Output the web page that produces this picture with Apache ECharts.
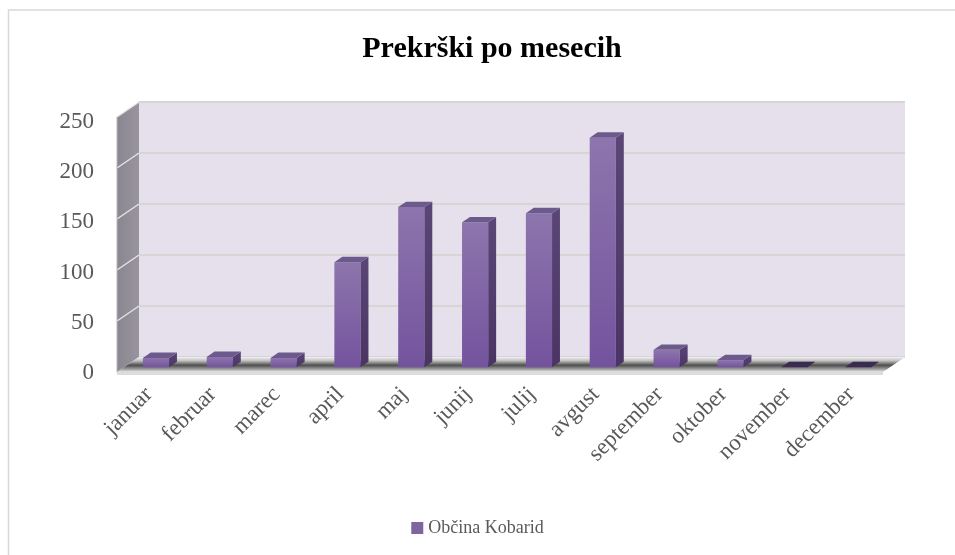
<!DOCTYPE html>
<html><head><meta charset="utf-8">
<script src="https://cdn.jsdelivr.net/npm/echarts@6/dist/echarts.min.js"></script>
<style>html,body{margin:0;padding:0;background:#fff}#c{width:955px;height:555px}</style>
</head><body><div id="c"></div>
<script>
const months = ['januar','februar','marec','april','maj','junij','julij','avgust','september','oktober','november','december'];
const values = [9, 10, 9, 103, 157, 142, 151, 225, 17, 7, 0, 0];
const yTicks = [0, 50, 100, 150, 200, 250];
const seriesName = 'Občina Kobarid';
const titleText = 'Prekrški po mesecih';

const FONT = 'Liberation Serif';
const TXT = '#595959';
const DX = -22, DY = 15;      // back plane -> front plane offset
const FRONT = 0.68;           // bar front face depth (fraction from back)
const DEPTH = 0.36;           // bar depth fraction
const BAR_RATIO = 0.41;
const yMax = yTicks[yTicks.length - 1];

const chart = echarts.init(document.getElementById('c'), null, {renderer: 'canvas'});

function renderWalls(params, api) {
  const cs = params.coordSys;
  const x0 = cs.x, x1 = cs.x + cs.width;
  const yb = api.coord([0, 0])[1];
  const yt = api.coord([0, yMax])[1];
  const ch = [];
  ch.push({type: 'polygon', shape: {points: [[x0, yt], [x0, yb], [x0 + DX, yb + DY], [x0 + DX, yt + DY]]},
    style: {fill: new echarts.graphic.LinearGradient(1, 0, 0, 0, [{offset: 0, color: '#9995a0'}, {offset: 1, color: '#8a8690'}])}});
  yTicks.forEach(v => {
    if (v === 0) return;
    const y = api.coord([0, v])[1];
    ch.push({type: 'line', shape: {x1: x0, y1: y, x2: x0 + DX, y2: y + DY}, style: {stroke: '#e4e4e4', lineWidth: 1.5}});
  });
  ch.push({type: 'line', shape: {x1: x0 + DX, y1: yt + DY, x2: x0 + DX, y2: yb + DY}, style: {stroke: '#b8b5bc', lineWidth: 1}});
  ch.push({type: 'polygon', shape: {points: [[x0, yb], [x1, yb], [x1 + DX, yb + DY], [x0 + DX, yb + DY]]},
    style: {fill: new echarts.graphic.LinearGradient(0, 0, 0, 1, [
      {offset: 0, color: '#f2f2f2'}, {offset: 0.25, color: '#c0c0c0'}, {offset: 0.55, color: '#4e4e4e'},
      {offset: 0.8, color: '#9a9a9a'}, {offset: 1, color: '#e8e8e8'}])}});
  ch.push({type: 'polygon', shape: {points: [[x0 + DX, yb + DY], [x1 + DX, yb + DY], [x1 + DX, yb + DY + 3], [x0 + DX, yb + DY + 3]]},
    style: {fill: '#dcdcdc'}});
  return {type: 'group', children: ch};
}

function renderBar(params, api) {
  const i = api.value(0), v = api.value(1);
  const top = api.coord([i, v]), base = api.coord([i, 0]);
  const band = api.size([1, 0])[0];
  const w = band * BAR_RATIO;
  const fxL = top[0] + DX * FRONT - w / 2, fxR = fxL + w;
  const fyT = top[1] + DY * FRONT, fyB = base[1] + DY * FRONT;
  const ddx = -DX * DEPTH, ddy = -DY * DEPTH;
  const ch = [];
  if (v > 0) {
    ch.push({type: 'rect', shape: {x: fxL, y: fyT, width: w, height: fyB - fyT},
      style: {fill: new echarts.graphic.LinearGradient(0, 0, 0, 1, [{offset: 0, color: '#8d75ad'}, {offset: 1, color: '#74539e'}])}});
    ch.push({type: 'polygon', shape: {points: [[fxR, fyT], [fxR, fyB], [fxR + ddx, fyB + ddy], [fxR + ddx, fyT + ddy]]},
      style: {fill: new echarts.graphic.LinearGradient(0, 0, 0, 1, [{offset: 0, color: '#5a4777'}, {offset: 1, color: '#4a3464'}])}});
    ch.push({type: 'polygon', shape: {points: [[fxL, fyT], [fxR, fyT], [fxR + ddx, fyT + ddy], [fxL + ddx, fyT + ddy]]},
      style: {fill: '#6c5a8d'}});
  } else {
    ch.push({type: 'polygon', shape: {points: [[fxL, fyT], [fxR, fyT], [fxR + ddx, fyT + ddy], [fxL + ddx, fyT + ddy]]},
      style: {fill: '#3a2b50'}});
  }
  return {type: 'group', children: ch};
}

const option = {
  animation: false,
  backgroundColor: '#ffffff',
  title: {
    text: titleText, left: 487, top: 29, textAlign: 'center',
    textStyle: {fontFamily: FONT, fontWeight: 'bold', fontSize: 30, color: '#000000'}
  },
  legend: {
    data: [seriesName], left: 'center', top: 514, icon: 'rect', itemWidth: 12, itemHeight: 12, itemGap: 4,
    textStyle: {fontFamily: FONT, fontSize: 18, color: TXT}
  },
  grid: [
    {left: 139, top: 102, width: 766, height: 255, show: true, backgroundColor: '#e5e0ec', borderWidth: 0, containLabel: false, outerBoundsMode: 'none'},
    {left: 117, top: 122, width: 766, height: 251, show: false, containLabel: false, outerBoundsMode: 'none'}
  ],
  xAxis: [
    {gridIndex: 0, type: 'category', data: months, show: false},
    {gridIndex: 1, type: 'category', data: months, axisLine: {show: false}, axisTick: {show: false}, splitLine: {show: false},
      axisLabel: {interval: 0, rotate: 45, margin: 18, fontFamily: FONT, fontSize: 23, color: TXT}}
  ],
  yAxis: [
    {gridIndex: 0, type: 'value', min: 0, max: yMax, interval: 50, axisLine: {show: false}, axisTick: {show: false},
      axisLabel: {show: false}, splitLine: {show: true, lineStyle: {color: '#d6d6d6', width: 2}}},
    {gridIndex: 1, type: 'value', min: 0, max: yMax, interval: 50, axisLine: {show: false}, axisTick: {show: false},
      splitLine: {show: false}, axisLabel: {margin: 23, fontFamily: FONT, fontSize: 23, color: TXT}}
  ],
  graphic: [
    {type: 'rect', shape: {x: 8.5, y: 10, width: 1000, height: 600}, style: {fill: 'none', stroke: '#d9d9d9', lineWidth: 1.5}, silent: true, z: -10}
  ],
  series: [
    {type: 'custom', name: 'walls', xAxisIndex: 0, yAxisIndex: 0, data: [[0, 0]], renderItem: renderWalls, z: 1, silent: true, clip: false},
    {type: 'custom', name: seriesName, xAxisIndex: 0, yAxisIndex: 0, itemStyle: {color: '#8064a2'},
      data: values.map((v, i) => [i, v]), renderItem: renderBar, z: 3, clip: false}
  ]
};
chart.setOption(option);
</script></body></html>
